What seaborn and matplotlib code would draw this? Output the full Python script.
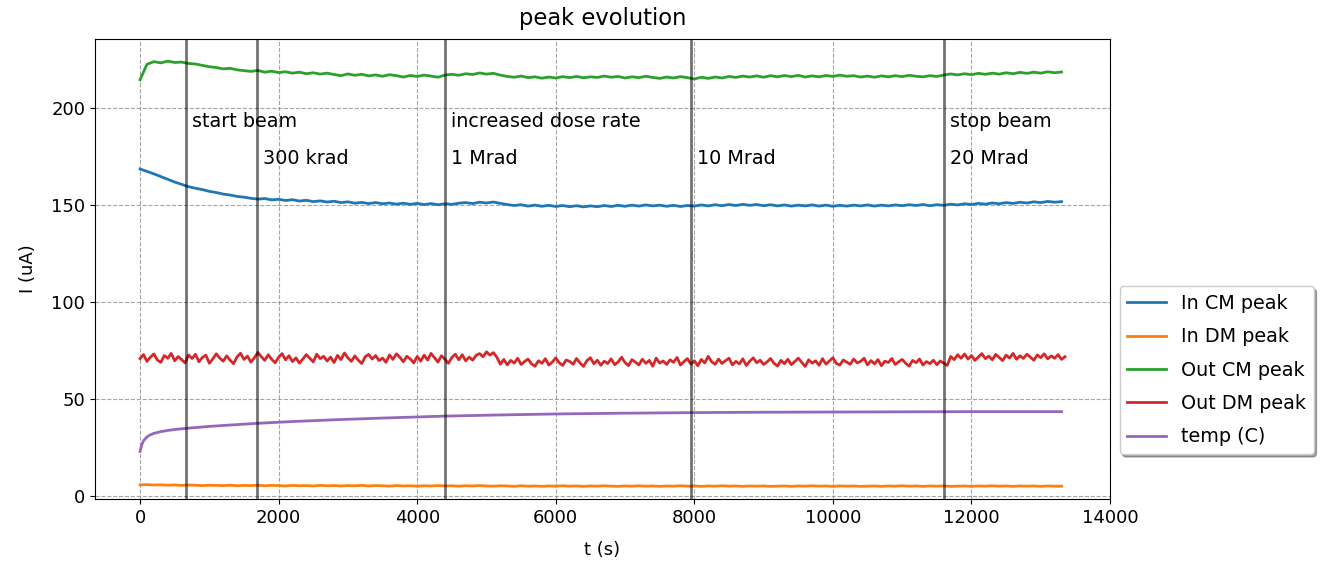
import numpy as np
import pandas as pd
import matplotlib
matplotlib.use("Agg")
import matplotlib.pyplot as plt
import seaborn as sns

# ---------------- data ----------------
t = np.arange(0, 13400, 100)   # sampling times (s) for CM / DM In peaks
t2 = np.arange(0, 13400, 50)   # sampling times (s) for Out DM peak

in_cm = [168.5, 167.3, 166.0, 164.6, 163.2, 161.8, 160.6, 159.4, 158.6, 157.9,
         157.0, 156.4, 155.6, 155.1, 154.4, 154.0, 153.4, 153.0, 153.3, 152.6,
         152.9, 152.3, 152.7, 152.0, 152.4, 151.7, 152.1, 151.5, 151.9, 151.2,
         151.6, 150.9, 151.3, 150.7, 151.2, 150.6, 151.0, 150.4, 150.9, 150.3,
         150.8, 150.2, 150.7, 150.1, 150.6, 150.3, 150.9, 151.2, 150.7, 151.4,
         151.0, 151.5, 150.8, 150.2, 149.7, 150.1, 149.4, 149.9, 149.3, 149.8,
         149.2, 149.7, 149.1, 149.6, 149.0, 149.5, 149.1, 149.7, 149.2, 149.8,
         149.3, 149.9, 149.4, 150.0, 149.5, 149.9, 149.3, 149.8, 149.2, 149.7,
         149.4, 150.0, 149.5, 150.1, 149.6, 150.2, 149.7, 150.3, 149.8, 150.2,
         149.6, 150.1, 149.5, 150.0, 149.4, 149.9, 149.5, 150.0, 149.4, 149.9,
         149.3, 149.8, 149.4, 149.9, 149.5, 150.0, 149.4, 149.9, 149.5, 150.0,
         149.6, 150.1, 149.7, 150.2, 149.6, 150.1, 149.8, 150.4, 150.0, 150.6,
         150.2, 150.8, 150.4, 151.0, 150.6, 151.2, 150.8, 151.4, 151.0, 151.6,
         151.2, 151.8, 151.4, 151.7]

in_dm = [5.8, 5.9, 5.7, 5.8, 5.6, 5.7, 5.5, 5.7, 5.6, 5.4,
         5.6, 5.5, 5.4, 5.6, 5.3, 5.5, 5.4, 5.6, 5.3, 5.5,
         5.4, 5.2, 5.5, 5.3, 5.4, 5.2, 5.5, 5.3, 5.4, 5.2,
         5.4, 5.3, 5.5, 5.2, 5.4, 5.3, 5.1, 5.4, 5.2, 5.3,
         5.1, 5.3, 5.2, 5.4, 5.2, 5.3, 5.1, 5.3, 5.2, 5.4,
         5.2, 5.1, 5.3, 5.2, 5.0, 5.3, 5.1, 5.2, 5.0, 5.2,
         5.1, 5.3, 5.1, 5.2, 5.0, 5.2, 5.1, 5.3, 5.1, 5.0,
         5.2, 5.1, 5.3, 5.1, 5.2, 5.0, 5.2, 5.1, 5.3, 5.1,
         5.2, 5.0, 5.2, 5.1, 5.3, 5.1, 5.2, 5.0, 5.2, 5.1,
         5.2, 5.0, 5.1, 5.2, 5.0, 5.2, 5.1, 5.3, 5.1, 5.2,
         5.0, 5.2, 5.1, 5.2, 5.0, 5.1, 5.2, 5.0, 5.2, 5.1,
         5.3, 5.1, 5.2, 5.0, 5.2, 5.1, 5.2, 5.0, 5.1, 5.2,
         5.0, 5.2, 5.1, 5.3, 5.1, 5.2, 5.0, 5.2, 5.1, 5.2,
         5.0, 5.2, 5.1, 5.1]

out_cm = [214.5, 222.5, 223.8, 223.2, 224.1, 223.4, 223.6, 222.9, 222.6, 221.9,
          221.2, 220.8, 220.1, 220.4, 219.6, 219.2, 218.8, 219.3, 218.4, 218.9,
          218.2, 218.6, 217.9, 218.4, 217.6, 218.1, 217.4, 217.9, 217.2, 216.6,
          217.5, 216.8, 217.3, 216.5, 217.0, 216.3, 217.1, 216.6, 215.9, 216.7,
          216.2, 216.9, 216.4, 215.8, 216.9, 217.3, 216.8, 217.6, 217.2, 218.0,
          217.4, 217.8, 216.9, 216.2, 215.8, 216.4, 215.6, 216.0, 215.3, 215.9,
          215.4, 216.1, 215.6, 216.2, 215.5, 216.0, 215.7, 216.4, 215.8, 216.2,
          215.4, 216.0, 215.6, 216.3, 215.7, 215.2, 215.9, 215.4, 216.1, 215.6,
          214.9, 215.8, 215.2, 215.9, 215.4, 216.2, 215.7, 216.4, 215.9, 216.5,
          215.8, 216.6, 216.0, 216.7, 216.1, 216.8, 215.9, 216.5, 216.0, 216.7,
          216.2, 216.9, 216.3, 216.6, 215.9, 216.4, 215.8, 216.5, 216.0, 216.6,
          216.1, 216.8, 216.3, 216.0, 216.6, 216.2, 216.9, 217.5, 217.0, 217.6,
          217.1, 217.8, 217.3, 217.9, 217.4, 218.1, 217.6, 218.3, 217.8, 218.4,
          217.9, 218.6, 218.1, 218.5]

out_dm = [70.8, 72.9, 69.4, 71.6, 73.2, 70.1, 68.9, 72.4, 71.0, 73.5,
          69.7, 71.9, 70.3, 68.6, 72.7, 70.9, 73.0, 69.2, 71.4, 72.6,
          68.4, 70.7, 73.3, 71.1, 69.5, 72.2, 70.0, 68.2, 71.7, 73.6,
          70.4, 72.1, 69.0, 71.3, 74.0, 71.8, 69.9, 72.8, 70.5, 68.7,
          71.5, 73.4, 70.2, 72.3, 69.3, 71.2, 68.5, 70.6, 72.9, 71.0,
          69.1, 73.1, 70.8, 72.0, 69.6, 71.6, 68.8, 72.5, 70.3, 73.7,
          71.2, 69.4, 72.2, 70.0, 68.3, 71.8, 73.0, 70.6, 72.4, 69.8,
          71.1, 68.9, 72.7, 70.4, 73.3, 71.5, 69.2, 72.0, 70.7, 68.6,
          71.9, 69.5, 72.6, 70.1, 73.5, 71.3, 69.0, 72.3, 70.5, 68.4,
          71.4, 73.1, 70.2, 72.8, 69.7, 71.6, 70.0, 72.5,
          73.4, 71.8, 74.3, 72.6, 73.9, 71.5,
          68.0, 70.4, 67.6, 69.9, 68.5, 71.0, 67.8, 69.3, 70.6, 68.1,
          66.9, 69.7, 68.4, 70.8, 67.5, 69.0, 71.2, 68.7, 67.3, 70.1,
          69.4, 67.9, 70.9, 68.6, 66.8, 69.8, 71.3, 68.2, 70.0, 67.4,
          69.5, 68.3, 70.7, 67.7, 69.1, 71.5, 68.8, 67.2, 70.3, 69.0,
          67.6, 70.5, 68.4, 69.9, 66.9, 71.1, 68.5, 69.6, 67.8, 70.2,
          68.9, 71.4, 67.5, 69.3, 70.8, 68.0, 69.7, 67.1, 70.4, 68.6,
          72.0, 69.2, 67.9, 70.6, 68.3, 69.8, 71.0, 67.6, 69.4, 68.1,
          70.7, 67.3, 69.5, 71.2, 68.7, 70.0, 67.8, 69.1, 70.9, 68.4,
          67.0, 69.9, 68.2, 70.5, 67.7, 69.3, 71.1, 68.9, 66.8, 70.2,
          68.5, 69.7, 67.4, 70.8, 68.0, 69.6, 71.3, 68.3, 67.5, 70.1,
          69.0, 67.9, 70.6, 68.6, 69.4, 71.0, 67.6, 69.8, 68.1, 70.3,
          67.2, 69.5, 68.8, 70.9, 67.8, 69.2, 70.4, 68.4, 66.9, 69.9,
          68.7, 70.6, 67.5, 69.3, 68.2, 70.0, 67.7, 69.6, 68.5, 67.3,
          71.9, 70.3, 72.8, 71.0, 73.2, 70.6, 72.4, 69.9, 71.7, 73.4,
          70.8, 72.1, 70.2, 73.0, 71.4, 69.8, 72.6, 71.1, 73.5, 70.5,
          72.3, 70.9, 73.1, 71.6, 70.0, 72.7, 71.3, 73.3, 70.7, 72.2,
          71.0, 72.9, 70.4, 71.8]

t_temp = [0, 25, 50, 100, 150, 200, 300, 400, 500, 700, 1000, 1300, 1700,
          2200, 2800, 3500, 4400, 5200, 6000, 7000, 8000, 9000, 10000,
          11000, 12000, 13300]
temp = [23.0, 26.5, 28.5, 30.5, 31.6, 32.3, 33.2, 33.8, 34.3, 35.0, 35.9,
        36.6, 37.5, 38.4, 39.3, 40.2, 41.2, 41.8, 42.3, 42.7, 43.0, 43.2,
        43.3, 43.4, 43.5, 43.5]

series_names = ["In CM peak", "In DM peak", "Out CM peak", "Out DM peak", "temp (C)"]

event_t = [663, 1686, 4395, 7954, 11600]
event_top = ["start beam", "", "increased dose rate", "", "stop beam"]
event_bottom = ["", "300 krad", "1 Mrad", "10 Mrad", "20 Mrad"]

# ---------------- plot ----------------
fig, ax = plt.subplots(figsize=(13.27, 5.7), dpi=100)
fig.subplots_adjust(left=0.0716, right=0.8365, top=0.9316, bottom=0.1246)

colors = sns.color_palette("tab10")
series = [(t, in_cm, 1.8), (t, in_dm, 1.8), (t, out_cm, 1.8), (t2, out_dm, 1.5),
          (t_temp, temp, 2.0)]
for name, (xs, ys, lw), c in zip(series_names, series, colors[:5]):
    sns.lineplot(x=xs, y=ys, ax=ax, label=name, color=c, linewidth=lw,
                 errorbar=None)

for x, top, bot in zip(event_t, event_top, event_bottom):
    ax.axvline(x, color="black", alpha=0.55, linewidth=2)
    if top:
        ax.text(x + 90, 193, top, fontsize=13.8, va="center", ha="left")
    if bot:
        ax.text(x + 90, 174, bot, fontsize=13.8, va="center", ha="left")

ax.set_xlim(-650, 14000)
ax.set_ylim(-1.5, 235.5)
ax.set_xticks(range(0, 14001, 2000))
ax.set_yticks(range(0, 201, 50))
ax.grid(True, linestyle="--", color="grey", alpha=0.7, linewidth=0.8)
ax.tick_params(labelsize=13)
ax.set_xlabel("t (s)", fontsize=13, labelpad=10)
ax.set_ylabel("I (uA)", fontsize=13, labelpad=10)
ax.set_title("peak evolution", fontsize=16.3, pad=10)
for line in ax.get_legend_handles_labels()[0]:
    line.set_linewidth(2)
leg = ax.legend(loc="center left", bbox_to_anchor=(1.0, 0.28), shadow=True,
                fancybox=True, fontsize=13.8, labelspacing=0.75)
for h in leg.legend_handles:
    h.set_linewidth(2)

fig.savefig("out.png", dpi=100)
